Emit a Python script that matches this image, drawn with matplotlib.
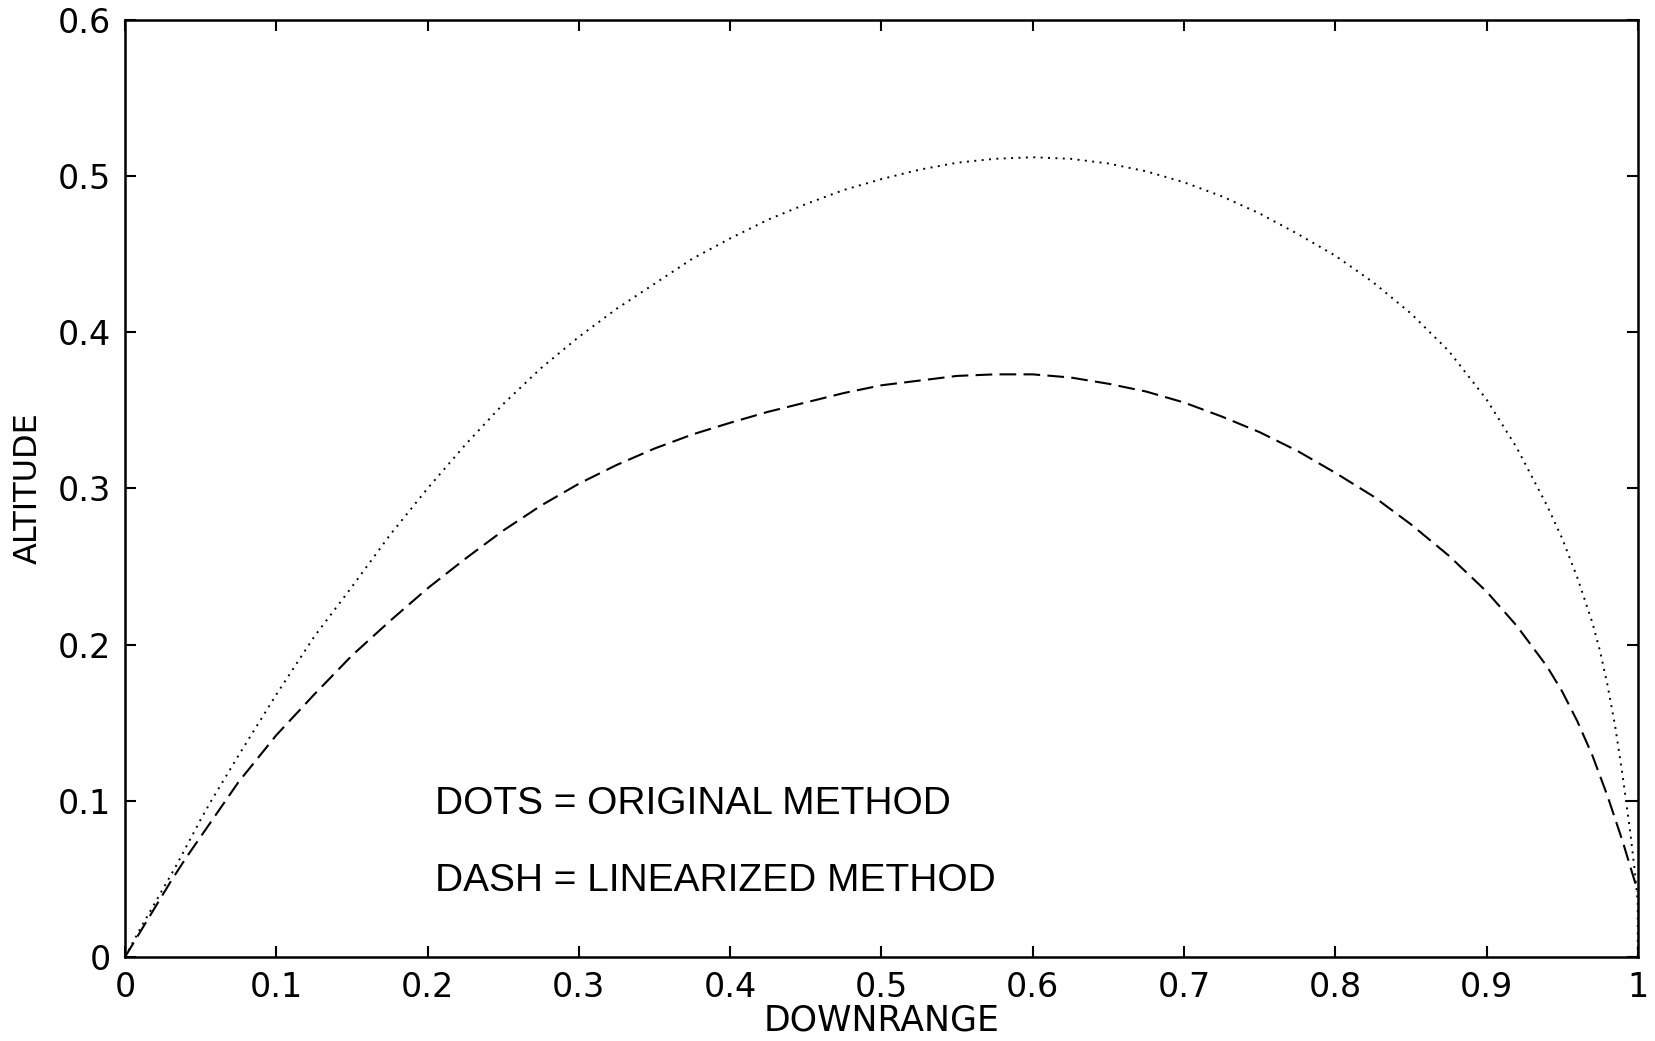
import matplotlib
matplotlib.use("Agg")
import matplotlib.pyplot as plt

# original method (dotted curve)
x_orig = [0, 0.01, 0.02, 0.033, 0.05, 0.057, 0.075, 0.1, 0.125, 0.15, 0.175, 0.2,
          0.225, 0.25, 0.275, 0.3, 0.325, 0.35, 0.375, 0.4, 0.425, 0.45, 0.475, 0.5,
          0.525, 0.55, 0.575, 0.6, 0.625, 0.65, 0.675, 0.7, 0.725, 0.75, 0.775, 0.8,
          0.825, 0.85, 0.875, 0.9, 0.92, 0.94, 0.95, 0.96, 0.97, 0.975, 0.98, 0.985,
          0.99, 0.995, 0.998, 1.0, 1.0]
y_orig = [0, 0.018, 0.035, 0.057, 0.088, 0.1, 0.129, 0.168, 0.205, 0.237, 0.27, 0.30,
          0.328, 0.354, 0.377, 0.397, 0.415, 0.431, 0.447, 0.46, 0.472, 0.482, 0.491,
          0.498, 0.504, 0.5085, 0.511, 0.512, 0.511, 0.508, 0.503, 0.496, 0.487, 0.476,
          0.463, 0.449, 0.432, 0.412, 0.388, 0.357, 0.326, 0.289, 0.268, 0.243, 0.214,
          0.196, 0.174, 0.148, 0.116, 0.08, 0.055, 0.035, 0.0]

# linearized method (dashed curve)
x_lin = [0, 0.01, 0.02, 0.03, 0.04, 0.05, 0.06, 0.075, 0.1, 0.125, 0.15, 0.175, 0.2,
         0.225, 0.25, 0.275, 0.3, 0.325, 0.35, 0.375, 0.4, 0.425, 0.45, 0.475, 0.5,
         0.525, 0.55, 0.575, 0.6, 0.625, 0.65, 0.675, 0.7, 0.725, 0.75, 0.775, 0.8,
         0.825, 0.85, 0.875, 0.9, 0.92, 0.94, 0.95, 0.96, 0.97, 0.98, 0.99, 0.995, 1.0]
y_lin = [0, 0.016, 0.032, 0.048, 0.063, 0.077, 0.091, 0.112, 0.142, 0.168, 0.193,
         0.215, 0.236, 0.255, 0.273, 0.289, 0.303, 0.315, 0.3255, 0.3345, 0.342, 0.349,
         0.355, 0.361, 0.366, 0.369, 0.372, 0.373, 0.373, 0.371, 0.367, 0.362, 0.355,
         0.346, 0.336, 0.324, 0.31, 0.295, 0.277, 0.257, 0.234, 0.212, 0.186, 0.17,
         0.151, 0.129, 0.103, 0.074, 0.058, 0.042]

xticks = [0, 0.1, 0.2, 0.3, 0.4, 0.5, 0.6, 0.7, 0.8, 0.9, 1.0]
xticklabels = ['0', '0.1', '0.2', '0.3', '0.4', '0.5', '0.6', '0.7', '0.8', '0.9', '1']
yticks = [0, 0.1, 0.2, 0.3, 0.4, 0.5, 0.6]
yticklabels = ['0', '0.1', '0.2', '0.3', '0.4', '0.5', '0.6']

fig = plt.figure(figsize=(16.56, 10.41), dpi=100)
ax = fig.add_axes([0.0755, 0.0807, 0.9135, 0.9003])

ax.plot(x_orig, y_orig, color='black', lw=1.4, linestyle=(0, (1, 2.8)),
        dash_capstyle='butt')
ax.plot(x_lin, y_lin, color='black', lw=1.5, linestyle=(0, (8, 3.5)),
        dash_capstyle='butt')

ax.text(0.205, 0.098, 'DOTS = ORIGINAL METHOD', fontsize=28,
        family='Liberation Sans', va='center', ha='left')
ax.text(0.205, 0.0486, 'DASH = LINEARIZED METHOD', fontsize=28,
        family='Liberation Sans', va='center', ha='left')

ax.set_xlim(0, 1)
ax.set_ylim(0, 0.6)
ax.set_xticks(xticks)
ax.set_xticklabels(xticklabels, fontsize=24, family='DejaVu Sans')
ax.set_yticks(yticks)
ax.set_yticklabels(yticklabels, fontsize=24, family='DejaVu Sans')
ax.tick_params(direction='in', length=8, width=1.5, top=True, right=True, pad=10)
for s in ax.spines.values():
    s.set_linewidth(1.8)

ax.set_xlabel('DOWNRANGE', fontsize=25, family='DejaVu Sans', labelpad=0)
ax.set_ylabel('ALTITUDE', fontsize=23, family='DejaVu Sans', labelpad=10)

fig.savefig('out.png', dpi=100)
